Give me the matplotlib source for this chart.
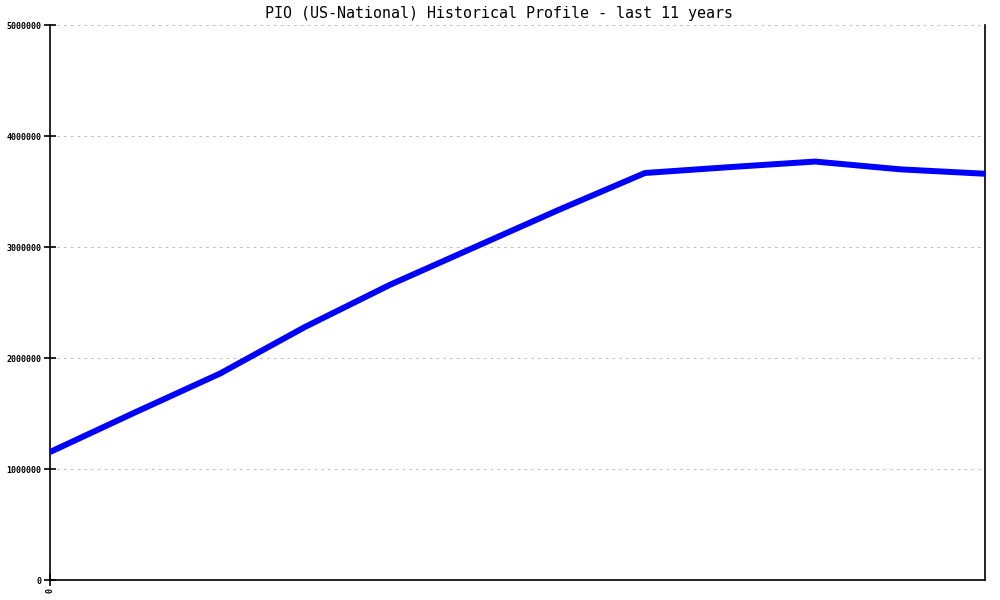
import matplotlib
matplotlib.use("Agg")
import matplotlib.pyplot as plt
from matplotlib.ticker import FixedLocator

title = "PIO (US-National) Historical Profile - last 11 years"
period_index = list(range(12))
values = [1153000, 1510000, 1860000, 2280000, 2660000, 3000000,
          3340000, 3667000, 3720000, 3770000, 3700000, 3660000]
y_ticks = [0, 1000000, 2000000, 3000000, 4000000, 5000000]
x_tick_labels = ["0"]

fig = plt.figure(figsize=(10, 6), dpi=100)
ax = fig.add_axes([0.05, 0.0333, 0.935, 0.925])

for yt in y_ticks[1:]:
    ax.axhline(yt, color="#c0c0c0", linewidth=0.75, linestyle=(0, (2.5, 4)), zorder=1)

ax.plot(period_index, values, color="#0000ff", linewidth=4.3, solid_capstyle="butt",
        solid_joinstyle="round", zorder=3)

ax.set_xlim(0, 11)
ax.set_ylim(0, 5000000)
ax.yaxis.set_major_locator(FixedLocator(y_ticks))
ax.set_yticklabels([str(v) for v in y_ticks], fontsize=6, family="DejaVu Sans Mono",
                   fontweight="bold")
ax.set_xticks([0])
ax.set_xticklabels(x_tick_labels, rotation=90, fontsize=6, family="DejaVu Sans Mono",
                   fontweight="bold")
ax.tick_params(axis="both", direction="inout", length=8, width=1.2, pad=2)

ax.spines["top"].set_visible(False)
for s in ["left", "right", "bottom"]:
    ax.spines[s].set_linewidth(1.2)

fig.text(0.499, 0.978, title, ha="center", va="center", fontsize=10.8,
         family="DejaVu Sans Mono")

fig.savefig("out.png", dpi=100, facecolor="white")
